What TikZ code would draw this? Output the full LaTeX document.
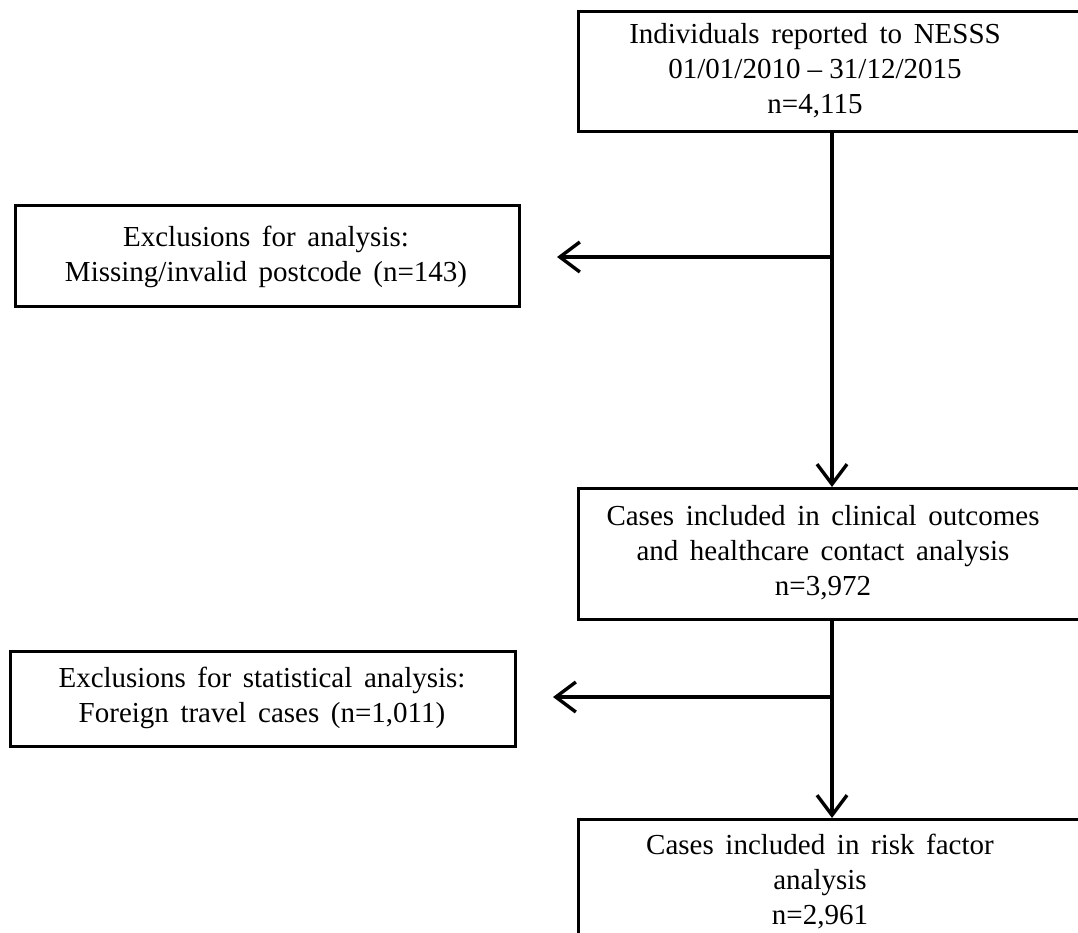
\documentclass[tikz,border=0pt]{standalone}
\usepackage{fontspec}
\setmainfont{Liberation Serif}[WordSpace={1.6,1,1}]
\usetikzlibrary{arrows.meta}
\begin{document}
\begin{tikzpicture}[x=1pt,y=-1pt,
  box/.style={draw, line width=3.4pt, rectangle, inner sep=0pt},
  txt/.style={align=center, font=\fontsize{29}{35}\selectfont, inner sep=0pt},
  conn/.style={line width=3.4pt},
  flow/.style={conn, -{Straight Barb[length=20pt,width=30pt,line width=3.4pt]}}]
  \useasboundingbox (0,0) rectangle (1078,932);
  \clip (0,0) rectangle (1078,932);

  % main column boxes (they run past the right edge of the page)
  \node[box, anchor=north west, minimum width=540, minimum height=120] (top) at (577,10) {};
  \node[txt] (toptext) at (815,71) {Individuals reported to NESSS\\01/01/2010\hspace{0.25em}--\hspace{0.25em}31/12/2015\\n=4,115};

  \node[box, anchor=north west, minimum width=540, minimum height=131] (mid) at (577,487) {};
  \node[txt] (midtext) at (823,553) {Cases included in clinical outcomes\\and healthcare contact analysis\\n=3,972};

  \node[box, anchor=north west, minimum width=540, minimum height=160] (bot) at (577,818) {};
  \node[txt] (bottext) at (820,882) {Cases included in risk factor\\analysis\\n=2,961};

  % exclusion boxes
  \node[box, anchor=north west, minimum width=504, minimum height=101] (ex1) at (14,204) {};
  \node[txt] (ex1text) at (266,257) {Exclusions for analysis:\\Missing/invalid postcode (n=143)};

  \node[box, anchor=north west, minimum width=505, minimum height=95] (ex2) at (9,650) {};
  \node[txt] (ex2text) at (262,698) {Exclusions for statistical analysis:\\Foreign travel cases (n=1,011)};

  % spine and branch points
  \coordinate (s1) at (832,130);
  \coordinate (b1) at (832,257);
  \coordinate (s2) at (832,618);
  \coordinate (b2) at (830,697);
  \coordinate (t1) at (557,257);
  \coordinate (t2) at (553,697);

  \draw[flow] (s1) -- (s1 |- mid.north);
  \draw[flow] (b1) -- (t1);
  \draw[flow] (s2) -- (s2 |- bot.north);
  \draw[flow] (b2) -- (t2);
\end{tikzpicture}
\end{document}
